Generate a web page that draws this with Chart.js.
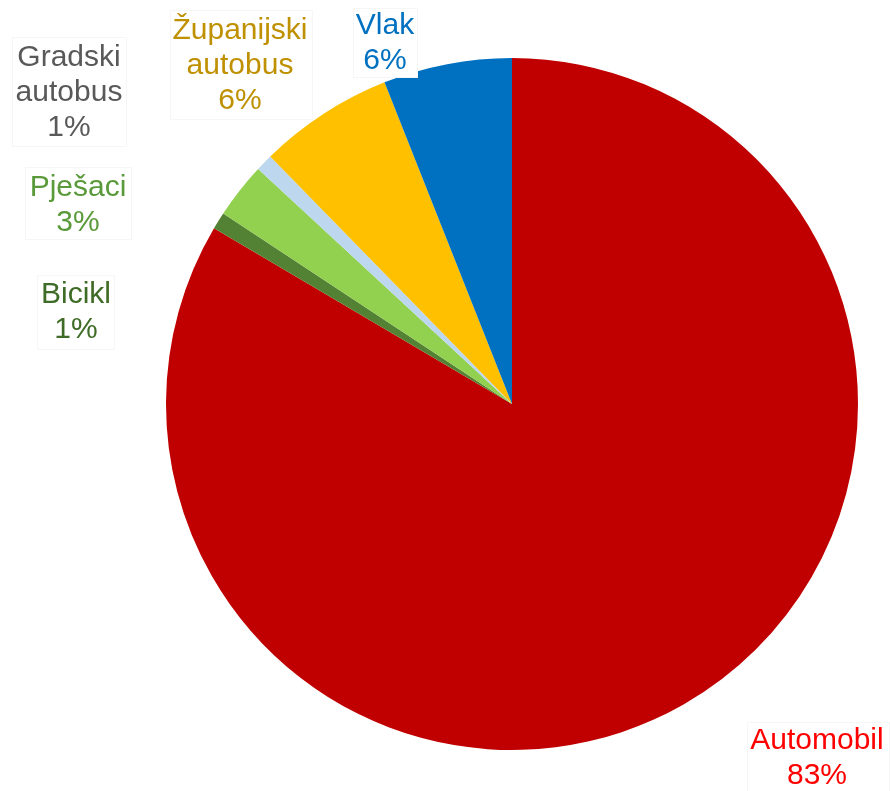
<!DOCTYPE html>
<html>
<head>
<meta charset="utf-8">
<script src="https://cdn.jsdelivr.net/npm/chart.js@4"></script>
<style>
  html, body { margin: 0; padding: 0; background: #fff; }
  #wrap { width: 890px; height: 791px; }
</style>
</head>
<body>
<div id="wrap"><canvas id="pie" width="890" height="791"></canvas></div>
<script>
// slices clockwise from 12 o'clock
const labels = ['Automobil', 'Bicikl', 'Pješaci', 'Gradski autobus', 'Županijski autobus', 'Vlak'];
const shares = [83.4, 0.8, 2.6, 0.8, 6.3, 6.0];
const sliceColors = ['#C00000', '#548235', '#92D050', '#BDD7EE', '#FFC000', '#0070C0'];
const textColors = ['#FF0000', '#3E6B26', '#5A9A3A', '#595959', '#BF9000', '#0070C0'];

// label boxes placed by hand, like the original
const labelBoxes = [
  {lines: ['Automobil'], x: 747, y: 722, w: 143, h: 72, cx: 817, cy: 741},
  {lines: ['Bicikl'], x: 37, y: 275, w: 78, h: 75, cx: 76, cy: 295},
  {lines: ['Pješaci'], x: 25, y: 167, w: 107, h: 73, cx: 78, cy: 188},
  {lines: ['Gradski', 'autobus'], x: 12, y: 37, w: 115, h: 110, cx: 69, cy: 58},
  {lines: ['Županijski', 'autobus'], x: 170, y: 10, w: 143, h: 110, cx: 240, cy: 31},
  {lines: ['Vlak'], x: 353, y: 8, w: 65, h: 70, cx: 385, cy: 26}
];

const labelPlugin = {
  id: 'boxLabels',
  afterDraw(chart) {
    const ctx = chart.ctx;
    ctx.save();
    ctx.font = '30px "Liberation Sans", Arial, sans-serif';
    ctx.textAlign = 'center';
    ctx.textBaseline = 'middle';
    labelBoxes.forEach((b, i) => {
      ctx.fillStyle = '#ffffff';
      ctx.fillRect(b.x, b.y, b.w, b.h);
      ctx.strokeStyle = '#f6f6f6';
      ctx.lineWidth = 1;
      ctx.strokeRect(b.x + 0.5, b.y + 0.5, b.w - 1, b.h - 1);
      ctx.fillStyle = textColors[i];
      const rows = b.lines.concat([Math.round(shares[i]) + '%']);
      rows.forEach((t, j) => ctx.fillText(t, b.cx, b.cy + j * 35));
    });
    ctx.restore();
  }
};

new Chart(document.getElementById('pie').getContext('2d'), {
  type: 'pie',
  data: {
    labels: labels,
    datasets: [{
      data: shares,
      backgroundColor: sliceColors,
      borderWidth: 0
    }]
  },
  options: {
    responsive: false,
    animation: false,
    layout: {
      padding: {left: 166, right: 32, top: 58, bottom: 41}
    },
    plugins: {
      legend: {display: false},
      tooltip: {enabled: false}
    }
  },
  plugins: [labelPlugin]
});
</script>
</body>
</html>
